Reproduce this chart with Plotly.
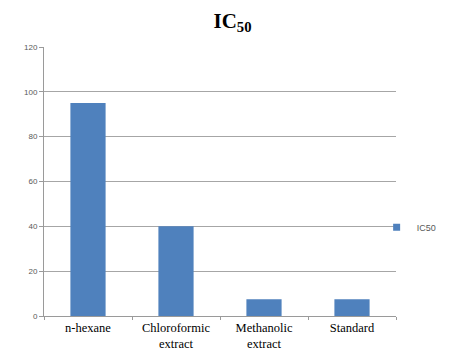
import plotly.graph_objects as go

categories = ["n-hexane", "Chloroformic<br>extract", "Methanolic<br>extract", "Standard"]
ic50_values = [95, 40, 7.5, 7.5]
y_ticks = [0, 20, 40, 60, 80, 100, 120]

fig = go.Figure()
fig.add_trace(go.Bar(
    x=categories, y=ic50_values, name="IC50",
    marker=dict(color="#4F81BD", line=dict(width=0)),
    width=0.4, showlegend=False,
))
# legend entry (small square marker, as in the reference)
fig.add_trace(go.Scatter(
    x=[None], y=[None], mode="markers", name="IC50",
    marker=dict(symbol="square", size=7, color="#4F81BD"),
))

# page body has an 8px default margin, so the figure is 8px smaller
fig.update_layout(
    width=449, height=342,
    margin=dict(l=36, r=61, t=39, b=34, autoexpand=False),
    paper_bgcolor="white", plot_bgcolor="white",
    title=dict(text="<b>IC<sub>50</sub></b>", x=0.5, xanchor="center", y=0.964, yanchor="middle",
               font=dict(family="Liberation Serif", size=21, color="black")),
    showlegend=True,
    legend=dict(x=0.945, y=0.33, xanchor="left", yanchor="middle",
                font=dict(family="Liberation Sans", size=9, color="#595959"),
                itemwidth=30, bgcolor="rgba(0,0,0,0)"),
)
fig.update_xaxes(
    showline=True, linecolor="#9a9a9a", linewidth=1,
    ticks="outside", ticklen=3, tickcolor="#9a9a9a", tickson="boundaries",
    tickfont=dict(family="Liberation Serif", size=12.5, color="black"),
    ticklabelstandoff=0,
    showgrid=False,
)
fig.update_yaxes(
    range=[0, 120], tickvals=y_ticks,
    showline=True, linecolor="#9a9a9a", linewidth=1,
    ticks="outside", ticklen=4, tickcolor="#9a9a9a",
    showgrid=True, gridcolor="#a6a6a6", gridwidth=1,
    zeroline=False,
    tickfont=dict(family="Liberation Sans", size=8, color="#595959"),
)

fig.write_html("out.html")
